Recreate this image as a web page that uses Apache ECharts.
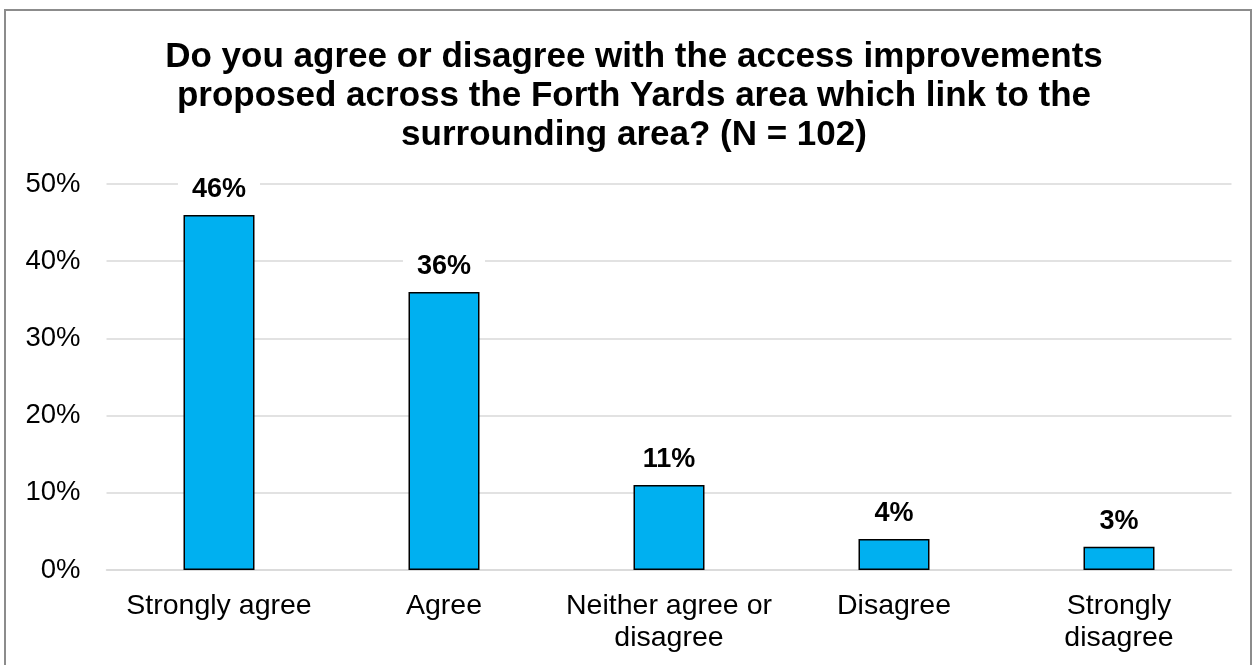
<!DOCTYPE html>
<html>
<head>
<meta charset="utf-8">
<script src="https://cdn.jsdelivr.net/npm/echarts@6/dist/echarts.min.js"></script>
<style>
  html, body { margin: 0; padding: 0; background: #fff; }
  #frame { position: absolute; left: 4px; top: 9px; width: 1248px; height: 700px; border: 2px solid #8c8c8c; box-sizing: border-box; }
  #chart { position: absolute; left: 0; top: 0; width: 1258px; height: 665px; }
</style>
</head>
<body>
<div id="frame"></div>
<div id="chart"></div>
<script>
const titleText = 'Do you agree or disagree with the access improvements\nproposed across the Forth Yards area which link to the\nsurrounding area? (N = 102)';
const categories = ['Strongly agree', 'Agree', 'Neither agree or\ndisagree', 'Disagree', 'Strongly\ndisagree'];
const values = [46, 36, 11, 4, 3];
const yTicks = { min: 0, max: 50, interval: 10 };

const chart = echarts.init(document.getElementById('chart'), null, { renderer: 'canvas' });
const font = 'Liberation Sans, Arial, sans-serif';
chart.setOption({
  backgroundColor: 'transparent',
  animation: false,
  title: {
    text: titleText,
    left: 629,
    top: 33,
    textAlign: 'center',
    textStyle: { fontFamily: font, fontSize: 35, fontWeight: 'bold', color: '#000', lineHeight: 39 }
  },
  grid: { left: 106.5, right: 26.5, top: 184, bottom: 95 },
  xAxis: {
    type: 'category',
    data: categories,
    axisLine: { show: true, lineStyle: { color: '#d9d9d9', width: 1.5 } },
    axisTick: { show: false },
    axisLabel: { fontFamily: font, fontSize: 28.5, color: '#000', margin: 20, lineHeight: 32, interval: 0 }
  },
  yAxis: {
    type: 'value',
    min: yTicks.min, max: yTicks.max, interval: yTicks.interval,
    axisLine: { show: false },
    axisTick: { show: false },
    splitLine: { lineStyle: { color: '#d9d9d9', width: 1.5 } },
    axisLabel: { fontFamily: font, fontSize: 27.5, color: '#000', margin: 26, formatter: '{value}%' }
  },
  series: [{
    type: 'bar',
    data: values,
    barWidth: 71,
    itemStyle: { color: '#00B0F0', borderColor: '#000', borderWidth: 1.5 },
    label: {
      show: true, position: 'top', distance: 10,
      formatter: '{c}%',
      fontFamily: font, fontSize: 27, fontWeight: 'bold', color: '#000',
      backgroundColor: '#fff', padding: [2, 14, 2, 14]
    }
  }]
});
</script>
</body>
</html>
